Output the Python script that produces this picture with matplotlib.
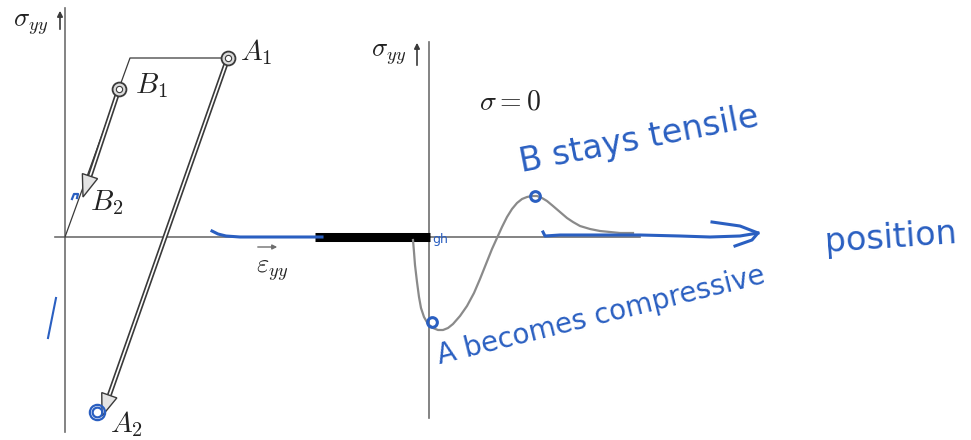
import numpy as np
import matplotlib
matplotlib.use("agg")
import matplotlib.pyplot as plt
from matplotlib.patches import Polygon

plt.rcParams['mathtext.fontset'] = 'cm'

# everything is laid out in pixel units of a 971 x 440 canvas (y grows downward)
GRAY = '#6e6e6e'
DARK = '#3a3a3a'
BLUE = '#2a5fc1'

# left panel: stress-strain path
load_x = [65, 130, 228]          # origin -> yield corner -> A1
load_y = [237, 58, 58]
pt_A1 = (228, 58)
pt_B1 = (119, 89)
tip_A2 = (102, 416)
tip_B2 = (83, 197)

# right panel: residual stress profile along the path
prof_x = [413, 414, 415, 417, 419, 421, 424, 428, 433, 438, 443, 448, 453,
          460, 467, 474, 480, 486, 492, 497, 502, 507, 512, 517, 522, 527,
          532, 537, 542, 547, 553, 560, 567, 573, 580, 590, 600, 610, 620, 633]
prof_y = [240, 252, 265, 282, 297, 308, 317, 324, 328, 330, 330, 328, 324,
          316, 306, 293, 279, 264, 249, 238, 227, 217, 209, 203, 199, 197,
          196, 196, 198, 201, 206, 212, 218, 222, 226, 229, 231, 232, 233, 233]

# hand-drawn annotation strokes
path_left_x = [212, 218, 226, 240, 270, 300, 322]
path_left_y = [231, 234, 236, 237, 237, 237, 237]
path_right_x = [543, 545, 560, 600, 640, 680, 710, 740, 758]
path_right_y = [232, 236, 235, 235, 235, 236, 237, 236, 233]
head_x = [712, 740, 758, 752, 735]
head_y = [222, 226, 233, 240, 246]
tick_x = [48, 56]
tick_y = [338, 298]

fig = plt.figure(figsize=(9.71, 4.40), dpi=100)
ax = fig.add_axes([0, 0, 1, 1])
ax.set_xlim(0, 971)
ax.set_ylim(440, 0)
ax.axis('off')

# axes lines
ax.plot([65, 65], [8, 432], color=GRAY, lw=1.2)
ax.plot([55, 640], [237, 237], color=GRAY, lw=1.2)
ax.plot([429, 429], [42, 418], color=GRAY, lw=1.2)
ax.plot([315, 430], [237, 237], color='black', lw=6.5, solid_capstyle='butt')

# axis arrows and labels
ax.annotate('', xy=(60, 8), xytext=(60, 32),
            arrowprops=dict(arrowstyle='-|>', color=DARK, lw=1.2, mutation_scale=8))
ax.annotate('', xy=(417, 40), xytext=(417, 68),
            arrowprops=dict(arrowstyle='-|>', color=DARK, lw=1.2, mutation_scale=8))
ax.annotate('', xy=(280, 247), xytext=(255, 247),
            arrowprops=dict(arrowstyle='-|>', color=GRAY, lw=1, mutation_scale=7))
ax.text(31, 24, r'$\sigma_{yy}$', fontsize=19, ha='center', va='center', color='#222222')
ax.text(389, 54, r'$\sigma_{yy}$', fontsize=19, ha='center', va='center', color='#222222')
ax.text(272, 270, r'$\varepsilon_{yy}$', fontsize=19, ha='center', va='center', color='#222222')
ax.text(510, 101, r'$\sigma = 0$', fontsize=20, ha='center', va='center', color='#222222')

# loading path
ax.plot(load_x, load_y, color=DARK, lw=0.9)


def double_arrow(start, tip, length=22, half=8):
    d = np.array(tip, float) - np.array(start, float)
    d /= np.hypot(*d)
    n = np.array([-d[1], d[0]])
    base = np.array(tip) - d * length
    ax.plot([start[0], base[0]], [start[1], base[1]], color=DARK, lw=3.6,
            solid_capstyle='butt', zorder=3)
    ax.plot([start[0], base[0]], [start[1], base[1]], color='white', lw=1.2,
            solid_capstyle='butt', zorder=4)
    tri = Polygon([base + n * half, base - n * half, tip], closed=True,
                  facecolor='#e4e4e4', edgecolor=DARK, lw=1, zorder=5)
    ax.add_patch(tri)


double_arrow(pt_A1, tip_A2)
double_arrow(pt_B1, tip_B2)

for p in (pt_A1, pt_B1):
    ax.plot(*p, 'o', ms=10, mfc='#dcdcdc', mec=DARK, mew=1.3, zorder=6)
    ax.plot(*p, 'o', ms=4.5, mfc='white', mec=DARK, mew=0.8, zorder=7)

ax.text(240, 52, r'$A_1$', fontsize=21, ha='left', va='center', color='#222222')
ax.text(135, 86, r'$B_1$', fontsize=21, ha='left', va='center', color='#222222')
ax.text(90, 203, r'$B_2$', fontsize=21, ha='left', va='center', color='#222222')
ax.text(110, 424, r'$A_2$', fontsize=21, ha='left', va='center', color='#222222')

# residual stress profile
ax.plot(prof_x, prof_y, color='#8a8a8a', lw=1.6, solid_joinstyle='round')

# annotations
ax.plot(path_left_x, path_left_y, color=BLUE, lw=2.2)
ax.plot(path_right_x, path_right_y, color=BLUE, lw=2.2)
ax.plot(head_x, head_y, color=BLUE, lw=2.2)
ax.plot(tick_x, tick_y, color=BLUE, lw=1.5)
ax.plot(535, 196, 'o', ms=7, mfc='none', mec=BLUE, mew=2.2, zorder=8)
ax.plot(432, 322, 'o', ms=7, mfc='none', mec=BLUE, mew=2.2, zorder=8)
for r, mw in ((11, 1.6), (7, 1.6)):
    ax.plot(97, 412, 'o', ms=r, mfc='none', mec=BLUE, mew=mw, zorder=8)
ax.plot([72, 74, 78, 77], [199, 194, 194, 198], color=BLUE, lw=1.6, zorder=8)

hand = dict(color=BLUE, fontfamily='DejaVu Sans', fontweight='normal',
            rotation_mode='anchor', ha='left', va='baseline')
ax.text(522, 172, 'B stays tensile', fontsize=24, rotation=11, **hand)
ax.text(440, 364, 'A becomes compressive', fontsize=20, rotation=14, **hand)
ax.text(826, 252, 'position', fontsize=24, rotation=4, **hand)
ax.text(432, 243, 'gh', fontsize=9, rotation=0, **hand)

fig.savefig('out.png', dpi=100)
